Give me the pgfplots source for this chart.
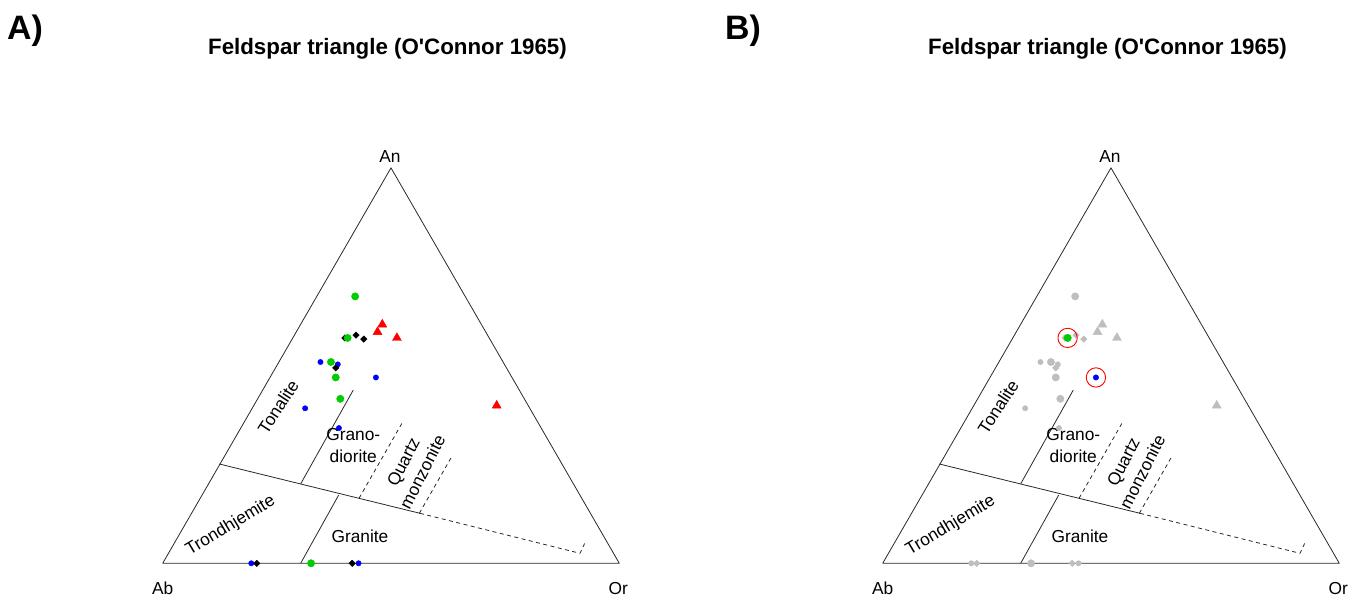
\documentclass[border=0pt]{standalone}
\usepackage{pgfplots}
\pgfplotsset{compat=1.18}
\usepackage{pgfplotstable}
\usepackage{fontspec}
\setmainfont{Liberation Sans}[Ligatures=TeXOff]

% Feldspar compositions as fractions: An (anorthite), Or (orthoclase); Ab = 1 - An - Or
\pgfplotstableread{
An Or
0.675 0.084
0.570 0.120
0.509 0.114
0.470 0.144
0.416 0.181
0.000 0.325
}\greenpts
\pgfplotstableread{
An Or
0.570 0.114
0.577 0.135
0.567 0.157
0.494 0.132
0.000 0.206
0.000 0.415
}\blackpts
\pgfplotstableread{
An Or
0.509 0.091
0.503 0.132
0.470 0.232
0.392 0.116
0.342 0.215
0.000 0.194
0.000 0.429
}\bluepts
\pgfplotstableread{
An Or
0.604 0.179
0.585 0.178
0.570 0.228
0.399 0.532
}\redpts
\pgfplotstableread{
An Or
0.570 0.120
}\hlgreen
\pgfplotstableread{
An Or
0.470 0.232
}\hlblue

\definecolor{rgreen}{RGB}{0,205,0}
\definecolor{rgrey}{RGB}{190,190,190}
\definecolor{edgec}{RGB}{40,40,40}

\newcommand{\lab}{\fontsize{17.4}{21.7}\selectfont}
\newcommand{\ttl}{\fontsize{22.4}{26}\selectfont\bfseries}
\newcommand{\pan}{\fontsize{34}{38}\selectfont\bfseries}

\pgfplotsset{
  tern/.style={x=456.6bp, y=456.6bp, xmin=-0.3563, ymin=-0.0738, ymax=1.2337,
    hide axis, clip=false, anchor=south west},
  edge/.style={no markers, edgec, line width=0.8pt, line join=round},
  dsh/.style={dash pattern=on 4pt off 3.5pt},
  table/txy/.style={x expr=\thisrow{Or}+0.5*\thisrow{An}, y expr=0.8660254*\thisrow{An}},
}

\newcommand{\feldframe}{%
  \addplot[edge] coordinates {(0,0) (1,0) (0.5,0.8660254) (0,0)};
  \addplot[edge] coordinates {(0.124,0.2175) (0.5635,0.1095)};
  \addplot[edge,dsh] coordinates {(0.5635,0.1095) (0.914,0.0219) (0.9249,0.0451)};
  \addplot[edge] coordinates {(0.3022,0) (0.3855,0.1496)};
  \addplot[edge] coordinates {(0.3022,0.174) (0.4174,0.3795)};
  \addplot[edge,dsh] coordinates {(0.43,0.1424) (0.5247,0.3079)};
  \addplot[edge,dsh] coordinates {(0.562,0.1095) (0.6351,0.2372)};
  \node[font=\lab] at (0.4978,0.8905) {An};
  \node[font=\lab] at (0,-0.0548) {Ab};
  \node[font=\lab] at (0.9978,-0.0548) {Or};
  \node[font=\lab, rotate=57] at (0.253,0.343) {Tonalite};
  \node[font=\lab, align=center, inner sep=0pt] at (0.4174,0.2573) {Grano-\\diorite};
  \node[font=\lab, align=center, inner sep=0pt, rotate=63] at (0.548,0.211) {Quartz\\monzonite};
  \node[font=\lab, rotate=31] at (0.149,0.0817) {Trondhjemite};
  \node[font=\lab] at (0.432,0.0583) {Granite};
  \node[font=\ttl] at (0.4923,1.1264) {Feldspar triangle (O'Connor 1965)};
}

\begin{document}
\begin{tikzpicture}
\useasboundingbox (0,0) rectangle (1357bp,597bp);
% Panel A
\begin{axis}[tern, xmax=1.2205, at={(0bp,0bp)}]
  \feldframe
  \node[font=\pan] at (-0.3016,1.1658) {A)};
  \addplot[only marks, mark=*, mark size=2.7, blue, mark options={draw=none, fill=blue}] table[txy] {\bluepts};
  \addplot[only marks, mark=square*, mark size=2.3, black, mark options={rotate=45, draw=none, fill=black}] table[txy] {\blackpts};
  \addplot[only marks, mark=*, mark size=3.7, rgreen, mark options={draw=none, fill=rgreen}] table[txy] {\greenpts};
  \addplot[only marks, mark=triangle*, mark size=5.2, red, mark options={draw=none, fill=red}] table[txy] {\redpts};
\end{axis}
% Panel B
\begin{axis}[tern, xmax=1.0388, at={(720bp,0bp)}]
  \feldframe
  \node[font=\pan] at (-0.3060,1.1658) {B)};
  \addplot[only marks, mark=*, mark size=2.7, rgrey, mark options={draw=none, fill=rgrey}] table[txy] {\bluepts};
  \addplot[only marks, mark=square*, mark size=2.3, rgrey, mark options={rotate=45, draw=none, fill=rgrey}] table[txy] {\blackpts};
  \addplot[only marks, mark=*, mark size=3.7, rgrey, mark options={draw=none, fill=rgrey}] table[txy] {\greenpts};
  \addplot[only marks, mark=triangle*, mark size=5.2, rgrey, mark options={draw=none, fill=rgrey}] table[txy] {\redpts};
  \addplot[only marks, mark=*, mark size=3.7, rgreen, mark options={draw=none, fill=rgreen}] table[txy] {\hlgreen};
  \addplot[only marks, mark=*, mark size=2.7, blue, mark options={draw=none, fill=blue}] table[txy] {\hlblue};
  \addplot[only marks, mark=o, mark size=9.7, red, mark options={line width=0.9pt}] table[txy] {\hlgreen};
  \addplot[only marks, mark=o, mark size=9.7, red, mark options={line width=0.9pt}] table[txy] {\hlblue};
\end{axis}
\end{tikzpicture}
\end{document}
